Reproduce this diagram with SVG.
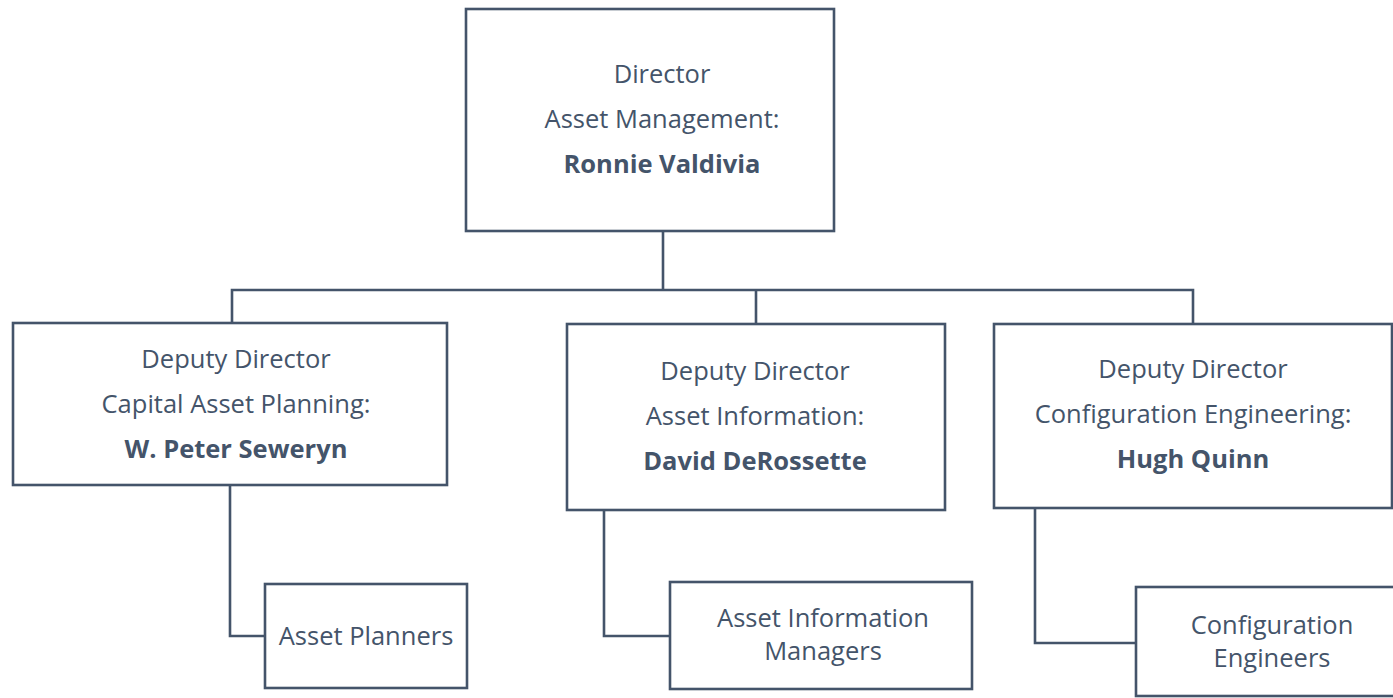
<svg xmlns="http://www.w3.org/2000/svg" width="1393" height="698" viewBox="0 0 1393 698">
<style>
.box{fill:#fff;stroke:#44546A;stroke-width:2.6}
.ln{fill:none;stroke:#44546A;stroke-width:2.6}
text{font-family:"Open Sans","Noto Sans",sans-serif;font-size:25.5px;fill:#44546A;text-anchor:middle}
.b{font-weight:bold}
</style>
<rect width="1393" height="698" fill="#fff"/>
<g id="connectors">
<path class="ln" d="M663 231 V290 M232 323 V290 H1193 V324 M756 290 V324"/>
<path class="ln" d="M230 485 V636 H265"/>
<path class="ln" d="M604 510 V636 H670"/>
<path class="ln" d="M1035 508 V643 H1136"/>
</g>
<g id="director">
<rect class="box" x="466" y="9" width="368" height="222"/>
<text x="662" y="83">Director</text>
<text x="662" y="128">Asset Management:</text>
<text x="662" y="173" class="b">Ronnie Valdivia</text>
</g>
<g id="dd-capital">
<rect class="box" x="13" y="323" width="434" height="162"/>
<text x="236" y="368">Deputy Director</text>
<text x="236" y="413">Capital Asset Planning:</text>
<text x="236" y="458" class="b">W. Peter Seweryn</text>
</g>
<g id="dd-info">
<rect class="box" x="567" y="324" width="378" height="186"/>
<text x="755" y="380">Deputy Director</text>
<text x="755" y="425">Asset Information:</text>
<text x="755" y="470" class="b">David DeRossette</text>
</g>
<g id="dd-config">
<rect class="box" x="994" y="324" width="398" height="184"/>
<text x="1193" y="378">Deputy Director</text>
<text x="1193" y="423">Configuration Engineering:</text>
<text x="1193" y="468" class="b">Hugh Quinn</text>
</g>
<g id="asset-planners">
<rect class="box" x="265" y="584" width="202" height="104"/>
<text x="366" y="645">Asset Planners</text>
</g>
<g id="asset-info-managers">
<rect class="box" x="670" y="582" width="302" height="107"/>
<text x="823" y="627">Asset Information</text>
<text x="823" y="660">Managers</text>
</g>
<g id="config-engineers">
<rect class="box" x="1136" y="587" width="270" height="109"/>
<text x="1272" y="634">Configuration</text>
<text x="1272" y="667">Engineers</text>
</g>
</svg>
